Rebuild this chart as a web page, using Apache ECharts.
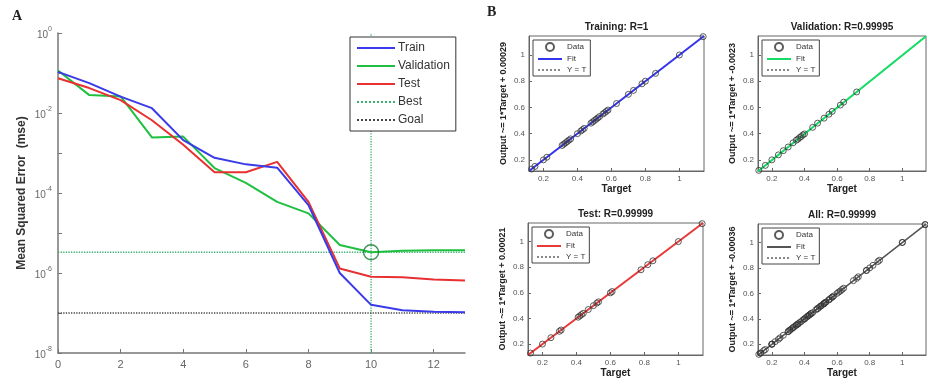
<!DOCTYPE html>
<html>
<head>
<meta charset="utf-8">
<script src="https://cdn.jsdelivr.net/npm/echarts@6/dist/echarts.min.js"></script>
<style>
  html, body { margin: 0; background: #fff; }
  #container { width: 928px; height: 379px; }
</style>
</head>
<body>
<div id="container"></div>
<script>
// ---- panel A: performance curves ----
var epochs = [0, 1, 2, 3, 4, 5, 6, 7, 8, 9, 10, 11, 12, 13];
var trainMse = [0.107, 0.056, 0.0257, 0.0132, 0.0021, 7.6e-4, 5.2e-4, 4.3e-4, 5.0e-5, 1.0e-6, 1.6e-7, 1.17e-7, 1.07e-7, 1.05e-7];
var valMse = [0.115, 0.028, 0.026, 0.00245, 0.00257, 4.2e-4, 1.8e-4, 6.0e-5, 3.1e-5, 5.0e-6, 3.3e-6, 3.6e-6, 3.7e-6, 3.7e-6];
var testMse = [0.074, 0.042, 0.021, 0.0066, 0.0016, 3.3e-4, 3.3e-4, 6.0e-4, 6.0e-5, 1.3e-6, 8.1e-7, 7.8e-7, 6.9e-7, 6.5e-7];
var bestEpoch = 10;
var bestMse = 3.3e-6;
var goalMse = 1e-7;
var yRangeA = [1e-8, 1];
var xRangeA = [0, 13];

// ---- panel B: regression plots ([target, output]) ----
var trainPts = [[0.13, 0.13], [0.15, 0.15], [0.2, 0.2], [0.22, 0.22], [0.31, 0.31], [0.32, 0.32], [0.33, 0.33], [0.34, 0.34],
  [0.35, 0.35], [0.36, 0.36], [0.4, 0.4], [0.42, 0.42], [0.43, 0.43], [0.44, 0.44], [0.48, 0.48], [0.49, 0.49], [0.5, 0.5],
  [0.51, 0.51], [0.52, 0.52], [0.53, 0.53], [0.55, 0.55], [0.56, 0.56], [0.57, 0.57], [0.58, 0.58], [0.63, 0.63],
  [0.7, 0.7], [0.73, 0.73], [0.78, 0.78], [0.8, 0.8], [0.86, 0.86], [1.0, 1.0], [1.14, 1.14]];
var valPts = [[0.12, 0.12], [0.16, 0.158], [0.2, 0.2], [0.24, 0.238], [0.27, 0.27], [0.3, 0.298], [0.33, 0.33], [0.35, 0.35],
  [0.36, 0.358], [0.37, 0.37], [0.38, 0.378], [0.39, 0.39], [0.4, 0.398], [0.45, 0.448], [0.48, 0.48], [0.52, 0.518],
  [0.55, 0.548], [0.57, 0.57], [0.62, 0.618], [0.64, 0.64], [0.72, 0.718]];
var testPts = [[0.13, 0.13], [0.2, 0.2], [0.25, 0.25], [0.3, 0.3], [0.31, 0.31], [0.41, 0.41], [0.42, 0.42], [0.43, 0.43],
  [0.44, 0.44], [0.47, 0.47], [0.5, 0.5], [0.52, 0.52], [0.53, 0.53], [0.6, 0.6], [0.61, 0.61], [0.78, 0.78],
  [0.82, 0.82], [0.85, 0.85], [1.0, 1.0], [1.14, 1.14]];
var allPts = trainPts.concat(valPts, testPts);

var regTitles = ['Training: R=1', 'Validation: R=0.99995', 'Test: R=0.99999', 'All: R=0.99999'];
var regYNames = ['Output ~= 1*Target + 0.00029', 'Output ~= 1*Target + -0.0023', 'Output ~= 1*Target + 0.00021', 'Output ~= 1*Target + -0.00036'];
var fitSlope = [1, 1, 1, 1];
var fitOffset = [0.00029, -0.0023, 0.00021, -0.00036];
var regPts = [trainPts, valPts, testPts, allPts];
var regTicks = ['0.2', '0.4', '0.6', '0.8', '1'];
var regRange = [0.115, 1.145];

var myChart = echarts.init(document.getElementById('container'));
var font = 'Liberation Sans, Arial, sans-serif';

var regGrids = [
  { left: 529, top: 36, width: 175, height: 135 },
  { left: 758, top: 36, width: 168, height: 135 },
  { left: 528, top: 223, width: 175, height: 134 },
  { left: 758, top: 224, width: 168, height: 133 }
];
var fitColors = ['#3434f0', '#14dc64', '#e83a3a', '#555555'];
var keys = ['tr', 'va', 'te', 'al'];
// legend entries that are plain lines: hide the marker ECharts puts on them
var noMarker = { opacity: 0 };

var option = {
  animation: false,
  textStyle: { fontFamily: font },
  graphic: [
    { type: 'text', left: 12, top: 9, style: { text: 'A', font: 'bold 14px Liberation Serif', fill: '#222' } },
    { type: 'text', left: 487, top: 5, style: { text: 'B', font: 'bold 14px Liberation Serif', fill: '#222' } }
  ],
  title: [],
  legend: [{
    orient: 'vertical', left: 350, top: 37,
    padding: [5, 6, 5, 6], itemGap: 6, itemWidth: 38, itemHeight: 12,
    borderColor: '#333', borderWidth: 1, borderRadius: 0, backgroundColor: '#fff',
    textStyle: { fontSize: 12, color: '#333', padding: [0, 0, 0, -2] },
    itemStyle: noMarker,
    data: ['Train', 'Validation', 'Test', 'Best', 'Goal']
  }],
  grid: [{ left: 58, top: 33, width: 407, height: 320 }],
  xAxis: [{
    gridIndex: 0, type: 'value', min: xRangeA[0], max: xRangeA[1], interval: 2,
    axisLine: { lineStyle: { color: '#777', width: 1.5 } },
    axisTick: { inside: true, length: 4, lineStyle: { color: '#777' } },
    axisLabel: { color: '#666', fontSize: 11, showMaxLabel: false, margin: 6 },
    splitLine: { show: false }
  }],
  yAxis: [{
    gridIndex: 0, type: 'log', logBase: 10, min: yRangeA[0], max: yRangeA[1],
    name: 'Mean Squared Error  (mse)', nameLocation: 'middle', nameGap: 30,
    nameTextStyle: { fontSize: 12, fontWeight: 'bold', color: '#333' },
    axisLine: { show: true, lineStyle: { color: '#777', width: 1.5 } },
    axisTick: { show: true, inside: true, length: 4, lineStyle: { color: '#777' } },
    minorTick: { show: false },
    splitLine: { show: false },
    axisLabel: {
      color: '#666', margin: 6,
      formatter: function (v) {
        var e = Math.round(Math.log10(v));
        if (e % 2 !== 0) return '';
        return '{b|10}{s|' + e + '}';
      },
      rich: {
        b: { fontSize: 10, color: '#666', verticalAlign: 'bottom' },
        s: { fontSize: 7, color: '#666', verticalAlign: 'bottom', padding: [0, 0, 7, 0] }
      }
    }
  }],
  series: [
    { name: 'Train', type: 'line', xAxisIndex: 0, yAxisIndex: 0, symbol: 'none', z: 4,
      lineStyle: { color: '#3a3ae8', width: 2 }, itemStyle: { color: '#3a3ae8' },
      data: epochs.map(function (e, i) { return [e, trainMse[i]]; }) },
    { name: 'Validation', type: 'line', xAxisIndex: 0, yAxisIndex: 0, symbol: 'none', z: 3,
      lineStyle: { color: '#1fc040', width: 2 }, itemStyle: { color: '#1fc040' },
      data: epochs.map(function (e, i) { return [e, valMse[i]]; }) },
    { name: 'Test', type: 'line', xAxisIndex: 0, yAxisIndex: 0, symbol: 'none', z: 3,
      lineStyle: { color: '#e83030', width: 2 }, itemStyle: { color: '#e83030' },
      data: epochs.map(function (e, i) { return [e, testMse[i]]; }) },
    { name: 'Best', type: 'line', xAxisIndex: 0, yAxisIndex: 0, symbol: 'none', z: 2,
      lineStyle: { color: '#3bb070', width: 1.3, type: 'dotted' }, itemStyle: { color: '#3bb070' },
      data: [[xRangeA[0], bestMse], [xRangeA[1], bestMse]] },
    { name: 'Best', type: 'line', xAxisIndex: 0, yAxisIndex: 0, symbol: 'none', z: 2,
      lineStyle: { color: '#3bb070', width: 1.3, type: 'dotted' }, itemStyle: { color: '#3bb070' },
      data: [[bestEpoch, yRangeA[0]], [bestEpoch, yRangeA[1]]] },
    { name: 'Goal', type: 'line', xAxisIndex: 0, yAxisIndex: 0, symbol: 'none', z: 2,
      lineStyle: { color: '#444', width: 1.3, type: 'dotted' }, itemStyle: { color: '#444' },
      data: [[xRangeA[0], goalMse], [xRangeA[1], goalMse]] },
    { name: 'bestMark', type: 'scatter', xAxisIndex: 0, yAxisIndex: 0, symbol: 'circle', symbolSize: 15, z: 5,
      itemStyle: { color: 'rgba(0,0,0,0)', borderColor: '#0f7a2a', borderWidth: 1.5 },
      data: [[bestEpoch, bestMse]] }
  ]
};

regGrids.forEach(function (g, i) {
  var gi = i + 1;
  var k = keys[i];
  option.grid.push({ left: g.left, top: g.top, width: g.width, height: g.height,
    show: true, borderColor: '#666', borderWidth: 1, backgroundColor: '#fff' });
  option.title.push({
    text: regTitles[i], left: g.left + g.width / 2, top: g.top - 14, textAlign: 'center',
    textStyle: { fontSize: 10, fontWeight: 'bold', color: '#222', fontFamily: font }, padding: 0
  });
  var axisCommon = {
    gridIndex: gi, type: 'value', min: regRange[0], max: regRange[1], splitNumber: 5,
    axisLine: { lineStyle: { color: '#666' } },
    axisTick: { inside: true, length: 3, lineStyle: { color: '#666' } },
    axisLabel: { color: '#555', fontSize: 8, showMinLabel: false, showMaxLabel: false, margin: 4,
      formatter: function (v) { return regTicks.indexOf(String(v)) >= 0 ? String(v) : ''; } },
    splitLine: { show: false }
  };
  option.xAxis.push(Object.assign({}, axisCommon, {
    name: 'Target', nameLocation: 'middle', nameGap: 13,
    nameTextStyle: { fontSize: 10, fontWeight: 'bold', color: '#222' }
  }));
  option.yAxis.push(Object.assign({}, axisCommon, {
    name: regYNames[i], nameLocation: 'middle', nameGap: 21,
    nameTextStyle: { fontSize: 9, fontWeight: 'bold', color: '#222' }
  }));
  option.legend.push({
    orient: 'vertical', left: g.left + 4, top: g.top + 4,
    padding: [2, 4, 2, 4], itemGap: 3, itemWidth: 24, itemHeight: 8,
    borderColor: '#444', borderWidth: 1, borderRadius: 0, backgroundColor: '#fff',
    textStyle: { fontSize: 8, color: '#333' },
    formatter: function (n) { return n.slice(3); },
    data: [
      { name: k + '_Data' },
      { name: k + '_Fit', itemStyle: noMarker },
      { name: k + '_Y = T', itemStyle: noMarker }
    ]
  });
  var ends = [regRange[0], regRange[1]];
  option.series.push({
    name: k + '_Y = T', type: 'line', xAxisIndex: gi, yAxisIndex: gi, symbol: 'none', z: 2,
    lineStyle: { color: '#888', width: 1, type: 'dotted' }, itemStyle: { color: '#888' },
    data: [[ends[0], ends[0]], [ends[1], ends[1]]]
  });
  option.series.push({
    name: k + '_Fit', type: 'line', xAxisIndex: gi, yAxisIndex: gi, symbol: 'none', z: 3,
    lineStyle: { color: fitColors[i], width: i === 3 ? 1.5 : 2 }, itemStyle: { color: fitColors[i] },
    data: ends.map(function (t) { return [t, fitSlope[i] * t + fitOffset[i]]; })
  });
  option.series.push({
    name: k + '_Data', type: 'scatter', xAxisIndex: gi, yAxisIndex: gi, symbol: 'circle', symbolSize: 6, z: 4,
    itemStyle: { color: 'rgba(0,0,0,0)', borderColor: '#333', borderWidth: 1 },
    data: regPts[i]
  });
});

myChart.setOption(option);
</script>
</body>
</html>
